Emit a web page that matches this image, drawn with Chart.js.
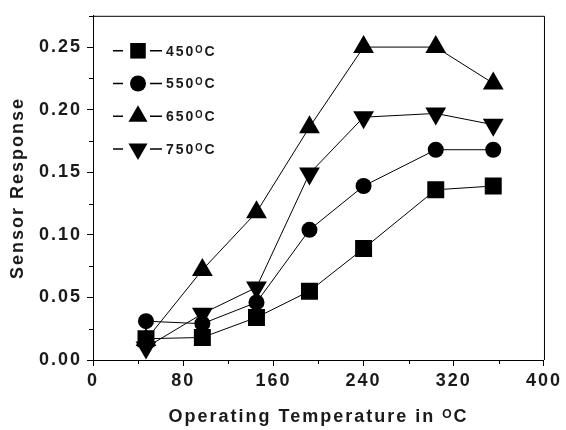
<!DOCTYPE html>
<html>
<head>
<meta charset="utf-8">
<script src="https://cdn.jsdelivr.net/npm/chart.js@4.4.0/dist/chart.umd.min.js"></script>
<style>
  body { margin: 0; background: #fff; }
  #wrap { width: 566px; height: 430px; position: relative; }
</style>
</head>
<body>
<div id="wrap"><canvas id="chart"></canvas></div>
<script>
// operating temperature (x) and sensor response for each annealing temperature
const temps = [47, 97, 145, 192, 240, 304, 355];
const resp450 = [0.017, 0.018, 0.034, 0.055, 0.089, 0.136, 0.139];
const resp550 = [0.031, 0.029, 0.046, 0.104, 0.139, 0.168, 0.168];
const resp650 = [0.016, 0.072, 0.118, 0.186, 0.250, 0.250, 0.221];
const resp750 = [0.010, 0.037, 0.058, 0.149, 0.194, 0.197, 0.188];
const seriesLabels = ["450\u1D3CC", "550\u1D3CC", "650\u1D3CC", "750\u1D3CC"];

const xMajor = [0, 80, 160, 240, 320, 400];
const yMajor = [0.0, 0.05, 0.1, 0.15, 0.2, 0.25];

const ink = "#1a1a1a";

const toPoints = (ys) => ys.map((y, i) => ({ x: temps[i], y: y }));

const isMajor = (list, v) => list.some((m) => Math.abs(m - v) < 1e-6);

// styles per series
const markers = [
  { pointStyle: "rect", radius: 12, rotation: 0 },
  { pointStyle: "circle", radius: 8, rotation: 0 },
  { pointStyle: "triangle", radius: 12, rotation: 0 },
  { pointStyle: "triangle", radius: 12, rotation: 180 },
];

const allSeries = [resp450, resp550, resp650, resp750];

const datasets = allSeries.map((s, i) => ({
  label: seriesLabels[i],
  data: toPoints(s),
  borderColor: "#000",
  borderWidth: 1,
  backgroundColor: "#000",
  pointBackgroundColor: "#000",
  pointBorderWidth: 0,
  pointStyle: markers[i].pointStyle,
  pointRadius: markers[i].radius,
  pointRotation: markers[i].rotation,
  pointHoverRadius: markers[i].radius,
  tension: 0,
}));

// letter spacing so text width matches the wide labels
const spacing = {
  id: "spacing",
  beforeLayout(chart) { chart.ctx.letterSpacing = "2px"; },
  beforeDraw(chart) { chart.ctx.letterSpacing = "2px"; },
};

// top/right frame and short minor ticks
const frame = {
  id: "frame",
  afterDraw(chart) {
    const { ctx, chartArea: a } = chart;
    ctx.save();
    ctx.strokeStyle = "#000";
    ctx.lineWidth = 1;
    ctx.beginPath();
    ctx.moveTo(a.left, a.top + 0.5);
    ctx.lineTo(a.right + 0.5, a.top + 0.5);
    ctx.lineTo(a.right + 0.5, a.bottom);
    ctx.stroke();

    const xs = chart.scales.x;
    const ys = chart.scales.y;
    ctx.beginPath();
    xs.ticks.forEach((t) => {
      if (isMajor(xMajor, t.value)) return;
      const px = Math.round(xs.getPixelForValue(t.value)) + 0.5;
      ctx.moveTo(px, a.bottom);
      ctx.lineTo(px, a.bottom + 4);
    });
    ys.ticks.forEach((t) => {
      if (isMajor(yMajor, t.value)) return;
      const py = Math.round(ys.getPixelForValue(t.value)) + 0.5;
      ctx.moveTo(a.left, py);
      ctx.lineTo(a.left - 4, py);
    });
    ctx.stroke();
    ctx.restore();
  },
};

// legend drawn as "—marker— label" rows inside the plot
const lineLegend = {
  id: "lineLegend",
  afterDraw(chart) {
    const { ctx, chartArea: a } = chart;
    ctx.save();
    ctx.letterSpacing = "2px";
    ctx.font = "bold 14px 'Liberation Sans', Arial, sans-serif";
    ctx.textBaseline = "middle";
    ctx.fillStyle = ink;
    chart.data.datasets.forEach((ds, i) => {
      const y = a.top + 35 + i * 32.7;
      const mx = a.left + 45;
      ctx.strokeStyle = "#000";
      ctx.lineWidth = 1.5;
      ctx.beginPath();
      ctx.moveTo(a.left + 20, y);
      ctx.lineTo(a.left + 30, y);
      ctx.moveTo(a.left + 57, y);
      ctx.lineTo(a.left + 69, y);
      ctx.stroke();
      ctx.fillStyle = "#000";
      Chart.helpers.drawPoint(ctx, {
        pointStyle: ds.pointStyle,
        radius: ds.pointStyle === "circle" ? 8 : 11,
        rotation: ds.pointRotation,
        borderWidth: 0,
      }, mx, y);
      ctx.fillStyle = ink;
      ctx.fillText(ds.label, a.left + 73, y + 1);
    });
    ctx.restore();
  },
};

const config = {
  type: "line",
  data: { datasets },
  options: {
    responsive: true,
    maintainAspectRatio: false,
    animation: false,
    layout: { padding: { left: 0, right: 20, top: 12, bottom: 0 } },
    plugins: {
      legend: { display: false },
      tooltip: { enabled: false },
    },
    scales: {
      x: {
        type: "linear",
        min: 0,
        max: 400,
        afterFit: (s) => { s.height = 70; },
        border: { display: true, color: "#000", width: 1 },
        grid: {
          drawOnChartArea: false,
          drawTicks: true,
          tickLength: 6,
          tickColor: (c) => (c.tick && isMajor(xMajor, c.tick.value) ? "#000" : "rgba(0,0,0,0)"),
        },
        ticks: {
          stepSize: 40,
          autoSkip: false,
          maxRotation: 0,
          padding: 4,
          color: ink,
          font: { family: "'Liberation Sans', Arial, sans-serif", size: 18, weight: "bold" },
          callback: (v) => (isMajor(xMajor, v) ? String(v) : ""),
        },
        title: {
          display: true,
          text: "Operating Temperature in \u1D3CC",
          color: ink,
          padding: { top: 0, bottom: 2 },
          font: { family: "'Liberation Sans', Arial, sans-serif", size: 18, weight: "bold" },
        },
      },
      y: {
        min: 0,
        max: 0.275,
        afterFit: (s) => { s.width = 93; },
        border: { display: true, color: "#000", width: 1 },
        grid: {
          drawOnChartArea: false,
          drawTicks: true,
          tickLength: 6,
          tickColor: (c) => (c.tick && isMajor(yMajor, c.tick.value) ? "#000" : "rgba(0,0,0,0)"),
        },
        ticks: {
          stepSize: 0.025,
          autoSkip: false,
          padding: 5,
          color: ink,
          font: { family: "'Liberation Sans', Arial, sans-serif", size: 18, weight: "bold" },
          callback: (v) => (isMajor(yMajor, v) ? v.toFixed(2) : ""),
        },
        title: {
          display: true,
          text: "Sensor Response",
          color: ink,
          padding: { top: 7, bottom: 0 },
          font: { family: "'Liberation Sans', Arial, sans-serif", size: 18, weight: "bold" },
        },
      },
    },
  },
  plugins: [spacing, frame, lineLegend],
};

let chart = new Chart(document.getElementById("chart"), config);
</script>
</body>
</html>
